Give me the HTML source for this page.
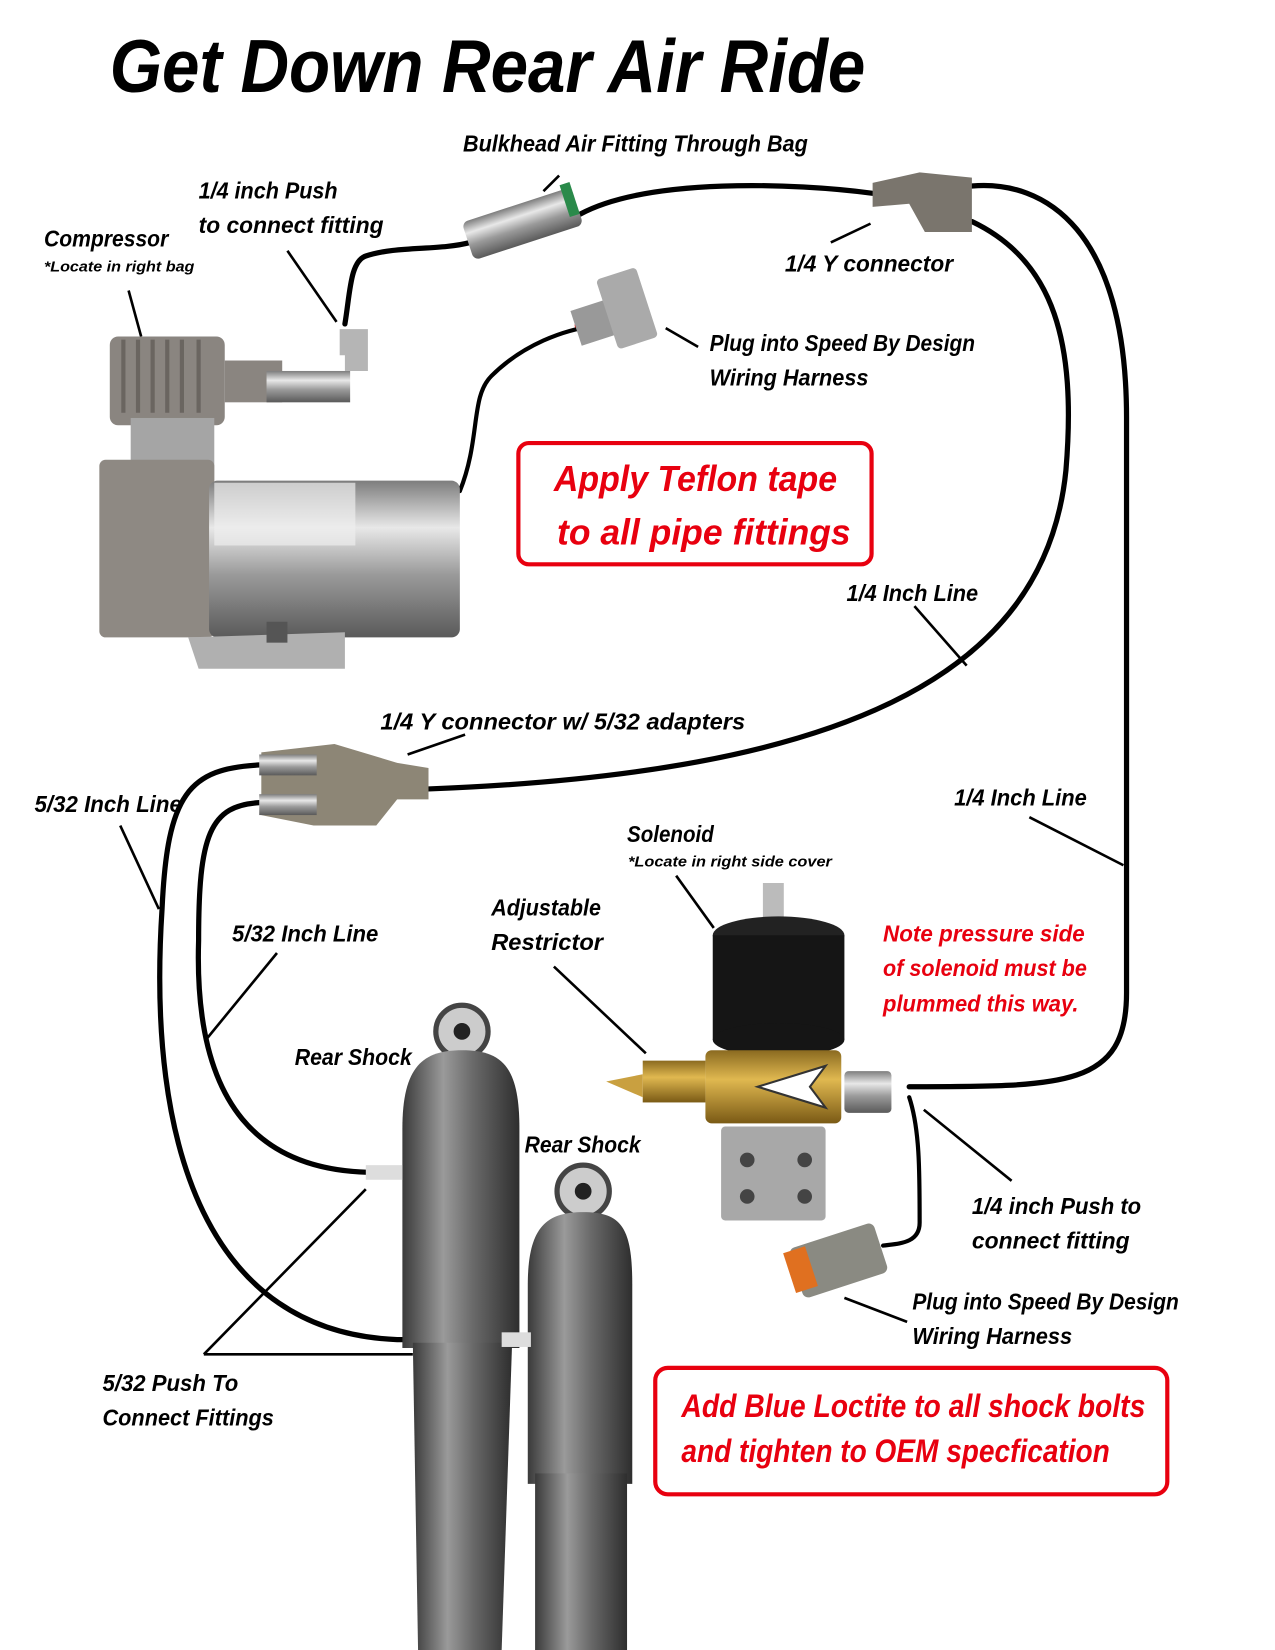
<!DOCTYPE html>
<html><head><meta charset="utf-8"><style>
html,body{margin:0;padding:0;background:#fff}
svg{display:block}
text{font-family:"Liberation Sans",sans-serif;font-weight:bold;font-style:italic}
</style></head><body>
<svg width="1275" height="1650" viewBox="0 0 1220 1579" xmlns="http://www.w3.org/2000/svg">
<defs>
<linearGradient id="metal" x1="0" y1="0" x2="0" y2="1"><stop offset="0" stop-color="#7d7d7d"/><stop offset=".3" stop-color="#e8e8e8"/><stop offset=".6" stop-color="#9a9a9a"/><stop offset="1" stop-color="#5a5a5a"/></linearGradient>
<linearGradient id="shock" x1="0" y1="0" x2="1" y2="0"><stop offset="0" stop-color="#3a3a3a"/><stop offset=".35" stop-color="#9a9a9a"/><stop offset=".6" stop-color="#6a6a6a"/><stop offset="1" stop-color="#2e2e2e"/></linearGradient>
<linearGradient id="brass" x1="0" y1="0" x2="0" y2="1"><stop offset="0" stop-color="#8a6a20"/><stop offset=".4" stop-color="#e0b850"/><stop offset="1" stop-color="#7a5a15"/></linearGradient>
</defs>
<text x="105" y="88" font-size="72" textLength="723" lengthAdjust="spacingAndGlyphs" style="font-weight:900">Get Down Rear Air Ride</text>

<g fill="none" stroke="#000" stroke-width="5" stroke-linecap="round">
<path d="M330,310 C335,280 335,250 350,245 C380,235 420,240 450,232"/>
<path d="M555,205 C620,170 760,175 835,185"/>
<path d="M930,178 C1000,172 1078,220 1078,400 L1078,950 C1078,1040 1020,1040 870,1040"/>
<path d="M930,212 C1010,250 1030,330 1020,450 C1000,650 800,740 410,755"/>
<path d="M250,732 C180,735 160,760 155,870 C140,1100 200,1275 380,1282 L490,1282"/>
<path d="M250,768 C200,770 190,800 190,900 C185,1060 250,1122 360,1122"/>
<path d="M870,1050 C880,1080 880,1120 880,1170 C880,1190 860,1190 845,1192" stroke-width="4"/>
<path d="M440,470 C460,420 450,380 470,360 C500,330 540,315 570,312" stroke-width="4"/>
</g>
<path d="M550,312 L580,308" stroke="#d00" stroke-width="3"/>

<g stroke="#000" stroke-width="2.5" fill="none">
<path d="M123,278 L135,322"/><path d="M275,240 L322,308"/><path d="M535,168 L520,183"/>
<path d="M833,214 L795,232"/><path d="M637,314 L668,332"/><path d="M875,580 L925,637"/>
<path d="M445,703 L390,722"/><path d="M115,790 L152,870"/><path d="M985,782 L1075,828"/>
<path d="M647,838 L683,888"/><path d="M265,912 L197,995"/><path d="M530,925 L618,1008"/>
<path d="M884,1062 L968,1130"/><path d="M808,1242 L868,1265"/>
<path d="M195,1296 L350,1138"/><path d="M195,1296 L395,1296"/>
</g>

<rect x="105" y="322" width="110" height="85" rx="8" fill="#8a8580"/>
<g stroke="#6a6560" stroke-width="4"><path d="M118,325v70M132,325v70M146,325v70M160,325v70M174,325v70M190,325v70"/></g>
<rect x="125" y="400" width="80" height="60" fill="#a5a5a5"/>
<rect x="215" y="345" width="55" height="40" fill="#8a8580"/>
<rect x="255" y="355" width="80" height="30" fill="url(#metal)"/>
<path d="M330,355 L352,355 L352,315 L325,315 L325,340 L330,340Z" fill="#b5b5b5"/>
<rect x="95" y="440" width="110" height="170" rx="6" fill="#8e8983"/>
<rect x="200" y="460" width="240" height="150" rx="8" fill="url(#metal)"/>
<rect x="205" y="462" width="135" height="60" fill="#eee" opacity=".7"/>
<path d="M180,610 L190,640 L330,640 L330,605Z" fill="#b0b0b0"/>
<rect x="255" y="595" width="20" height="20" fill="#555"/>

<rect x="445" y="195" width="110" height="38" rx="6" fill="url(#metal)" transform="rotate(-18 500 214)"/>
<rect x="545" y="190" width="10" height="32" fill="#2a8a4a" transform="rotate(-18 500 214)"/>
<rect x="550" y="290" width="45" height="35" fill="#999" transform="rotate(-18 572 307)"/>
<rect x="580" y="260" width="40" height="70" rx="4" fill="#aaa" transform="rotate(-18 600 295)"/>
<path d="M835,175 L880,165 L930,170 L930,222 L885,222 L870,195 L835,198Z" fill="#7a756d"/>
<path d="M250,720 L320,712 L380,730 L410,735 L410,765 L380,765 L360,790 L300,790 L250,780Z" fill="#8d8676"/>
<rect x="248" y="722" width="55" height="20" fill="url(#metal)"/><rect x="248" y="760" width="55" height="20" fill="url(#metal)"/>

<rect x="496" y="424" width="338" height="116" rx="10" fill="none" stroke="#e8000f" stroke-width="4"/>
<text x="530" y="470" font-size="35" fill="#e8000f" textLength="271" lengthAdjust="spacingAndGlyphs">Apply Teflon tape</text>
<text x="533" y="521" font-size="35" fill="#e8000f" textLength="281" lengthAdjust="spacingAndGlyphs">to all pipe fittings</text>

<rect x="730" y="845" width="20" height="40" fill="#bbb"/>
<ellipse cx="745" cy="895" rx="63" ry="18" fill="#222"/>
<rect x="682" y="895" width="126" height="100" fill="#151515"/>
<ellipse cx="745" cy="995" rx="63" ry="16" fill="#151515"/>
<rect x="675" y="1005" width="130" height="70" rx="6" fill="url(#brass)"/>
<rect x="615" y="1015" width="60" height="40" fill="url(#brass)"/>
<path d="M580,1035 L615,1028 L615,1050Z" fill="#c9a040"/>
<path d="M725,1040 L790,1020 L775,1040 L790,1060Z" fill="#fff" stroke="#333" stroke-width="2"/>
<rect x="690" y="1078" width="100" height="90" rx="4" fill="#a8a8a8"/>
<g fill="#444"><circle cx="715" cy="1110" r="7"/><circle cx="770" cy="1110" r="7"/><circle cx="715" cy="1145" r="7"/><circle cx="770" cy="1145" r="7"/></g>
<rect x="808" y="1025" width="45" height="40" rx="4" fill="url(#metal)"/>
<rect x="760" y="1182" width="85" height="50" rx="6" fill="#8a8a82" transform="rotate(-18 800 1207)"/>
<rect x="755" y="1195" width="22" height="40" fill="#e07020" transform="rotate(-18 766 1215)"/>

<circle cx="442" cy="987" r="25" fill="#ccc" stroke="#444" stroke-width="5"/><circle cx="442" cy="987" r="8" fill="#222"/>
<path d="M385,1290 L385,1080 C385,1020 405,1005 442,1005 C480,1005 497,1020 497,1080 L497,1290Z" fill="url(#shock)"/>
<path d="M395,1285 L490,1285 L480,1579 L400,1579Z" fill="url(#shock)"/>
<rect x="350" y="1115" width="35" height="14" fill="#ddd"/>
<circle cx="558" cy="1140" r="25" fill="#ccc" stroke="#444" stroke-width="5"/><circle cx="558" cy="1140" r="8" fill="#222"/>
<path d="M505,1420 L505,1230 C505,1175 522,1160 558,1160 C595,1160 605,1175 605,1230 L605,1420Z" fill="url(#shock)"/>
<rect x="512" y="1410" width="88" height="169" fill="url(#shock)"/>
<rect x="480" y="1275" width="28" height="14" fill="#ddd"/>

<rect x="627" y="1309" width="490" height="121" rx="12" fill="none" stroke="#e8000f" stroke-width="4"/>
<text x="652" y="1356" font-size="31" fill="#e8000f" textLength="444" lengthAdjust="spacingAndGlyphs">Add Blue Loctite to all shock bolts</text>
<text x="652" y="1399" font-size="31" fill="#e8000f" textLength="410" lengthAdjust="spacingAndGlyphs">and tighten to OEM specfication</text>

<g font-size="22" fill="#000" lengthAdjust="spacingAndGlyphs">
<text x="443" y="145" textLength="330" lengthAdjust="spacingAndGlyphs">Bulkhead Air Fitting Through Bag</text>
<text x="190" y="190" textLength="133" lengthAdjust="spacingAndGlyphs">1/4 inch Push</text>
<text x="190" y="223" textLength="177" lengthAdjust="spacingAndGlyphs">to connect fitting</text>
<text x="42" y="236" textLength="119" lengthAdjust="spacingAndGlyphs">Compressor</text>
<text x="751" y="260" textLength="161" lengthAdjust="spacingAndGlyphs">1/4 Y connector</text>
<text x="679" y="336" textLength="254" lengthAdjust="spacingAndGlyphs">Plug into Speed By Design</text>
<text x="679" y="369" textLength="152" lengthAdjust="spacingAndGlyphs">Wiring Harness</text>
<text x="810" y="575" textLength="126" lengthAdjust="spacingAndGlyphs">1/4 Inch Line</text>
<text x="364" y="698" textLength="349" lengthAdjust="spacingAndGlyphs">1/4 Y connector w/ 5/32 adapters</text>
<text x="33" y="777" textLength="141" lengthAdjust="spacingAndGlyphs">5/32 Inch Line</text>
<text x="913" y="771" textLength="127" lengthAdjust="spacingAndGlyphs">1/4 Inch Line</text>
<text x="600" y="806" textLength="83" lengthAdjust="spacingAndGlyphs">Solenoid</text>
<text x="222" y="901" textLength="140" lengthAdjust="spacingAndGlyphs">5/32 Inch Line</text>
<text x="470" y="876" textLength="105" lengthAdjust="spacingAndGlyphs">Adjustable</text>
<text x="470" y="909" textLength="107" lengthAdjust="spacingAndGlyphs">Restrictor</text>
<text x="282" y="1019" textLength="112" lengthAdjust="spacingAndGlyphs">Rear Shock</text>
<text x="502" y="1103" textLength="111" lengthAdjust="spacingAndGlyphs">Rear Shock</text>
<text x="930" y="1162" textLength="162" lengthAdjust="spacingAndGlyphs">1/4 inch Push to</text>
<text x="930" y="1195" textLength="151" lengthAdjust="spacingAndGlyphs">connect fitting</text>
<text x="873" y="1253" textLength="255" lengthAdjust="spacingAndGlyphs">Plug into Speed By Design</text>
<text x="873" y="1286" textLength="153" lengthAdjust="spacingAndGlyphs">Wiring Harness</text>
<text x="98" y="1331" textLength="130" lengthAdjust="spacingAndGlyphs">5/32 Push To</text>
<text x="98" y="1364" textLength="164" lengthAdjust="spacingAndGlyphs">Connect Fittings</text>
</g>
<g font-size="22" fill="#e8000f">
<text x="845" y="901" textLength="193" lengthAdjust="spacingAndGlyphs">Note pressure side</text>
<text x="845" y="934" textLength="195" lengthAdjust="spacingAndGlyphs">of solenoid must be</text>
<text x="845" y="968" textLength="187" lengthAdjust="spacingAndGlyphs">plummed this way.</text>
</g>
<g font-size="14" fill="#000">
<text x="42" y="260" textLength="144" lengthAdjust="spacingAndGlyphs">*Locate in right bag</text>
<text x="601" y="829" textLength="195" lengthAdjust="spacingAndGlyphs">*Locate in right side cover</text>
</g>
</svg>
</body></html>
